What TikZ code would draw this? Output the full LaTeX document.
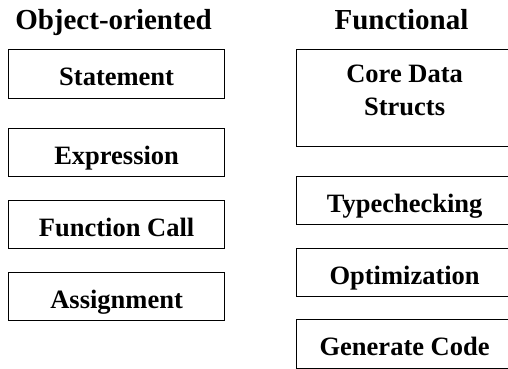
\documentclass[tikz,border=0pt]{standalone}
\usepackage{fontspec}
\setmainfont{Liberation Serif}
\tikzset{
  stagebox/.style 2 args={draw, line width=1.2pt, minimum width=216pt, minimum height=#1,
    inner sep=0pt, anchor=north west,
    path picture={
      \clip ([yshift=7.5pt]path picture bounding box.south west) rectangle (path picture bounding box.north east);
      \node[anchor=base, inner sep=0pt, font=\fontsize{26.5}{33}\selectfont\bfseries]
        at ([yshift=-35.5pt]path picture bounding box.north) {#2};
    }},
  heading/.style={anchor=base, inner sep=0pt, font=\fontsize{29}{35}\selectfont\bfseries},
}
\begin{document}
\begin{tikzpicture}[x=1pt, y=-1pt]
	\useasboundingbox (0,0) rectangle (508,368);
	\clip (0,0) rectangle (508,368);
	
	%column headings
	\node[heading] (oohead) at (113.5,29) {Object-oriented};
	\node[heading] (fnhead) at (401.5,29) {Functional};
	
	%object-oriented column
	\node[stagebox={49pt}{Statement}] (stmt) at (8,49) {};
	\node[stagebox={48pt}{Expression}] (expr) at (8,128) {};
	\node[stagebox={48pt}{Function Call}] (call) at (8,200) {};
	\node[stagebox={48pt}{Assignment}] (asgn) at (8,272) {};
	
	%functional column
	\node[stagebox={97pt}{\raisebox{2.5pt}{\begin{tabular}[t]{@{}c@{}}Core Data\\Structs\end{tabular}}}] (core) at (296,49) {};
	\node[stagebox={48pt}{Typechecking}] (tych) at (296,176) {};
	\node[stagebox={48pt}{Optimization}] (optm) at (296,248) {};
	\node[stagebox={49pt}{Generate Code}] (gen) at (296,319) {};
\end{tikzpicture}
\end{document}
